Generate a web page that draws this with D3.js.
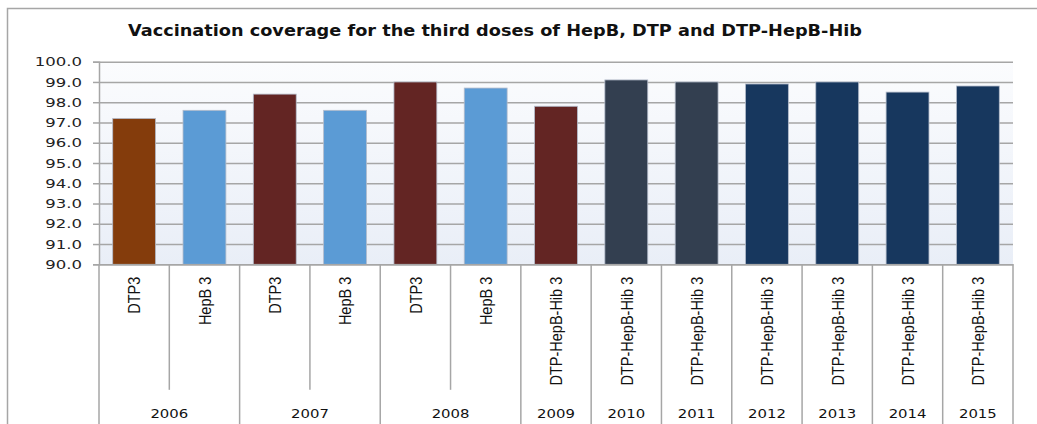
<!DOCTYPE html>
<html>
<head>
<meta charset="utf-8">
<script src="https://cdn.jsdelivr.net/npm/d3@7"></script>
<style>
  body { margin: 0; background: #fff; }
  svg { display: block; }
</style>
</head>
<body>
<div id="chart"></div>
<script>
// data
var years = ["2006", "2006", "2007", "2007", "2008", "2008", "2009", "2010", "2011", "2012", "2013", "2014", "2015"];
var vaccines = ["DTP3", "HepB 3", "DTP3", "HepB 3", "DTP3", "HepB 3",
  "DTP-HepB-Hib 3", "DTP-HepB-Hib 3", "DTP-HepB-Hib 3", "DTP-HepB-Hib 3",
  "DTP-HepB-Hib 3", "DTP-HepB-Hib 3", "DTP-HepB-Hib 3"];
var coverage = [97.2, 97.6, 98.4, 97.6, 99.0, 98.7, 97.8, 99.1, 99.0, 98.9, 99.0, 98.5, 98.8];
var yTicks = [90, 91, 92, 93, 94, 95, 96, 97, 98, 99, 100];
var title = "Vaccination coverage for the third doses of HepB, DTP and DTP-HepB-Hib";

// fill for each bar (same order as the data)
var barColors = ["#843c0c", "#5b9bd5", "#632523", "#5b9bd5", "#632523", "#5b9bd5",
  "#632523", "#333f50", "#333f50", "#17375e", "#17375e", "#17375e", "#17375e"];

var svgWidth = 1037;
var svgHeight = 424;
var margin = { top: 61.7, left: 99 };
var width = 914;
var height = 202.6;
var stretch = 1.27; // the original is drawn a bit wide

var svg = d3.select("#chart")
  .append("svg")
  .attr("width", svgWidth)
  .attr("height", svgHeight);

// chart frame
svg.append("rect")
  .attr("x", 7.5).attr("y", 8.5)
  .attr("width", 1100).attr("height", 500)
  .attr("fill", "none")
  .attr("stroke", "#a6a6a6")
  .attr("stroke-width", 1.5);

var defs = svg.append("defs");
var grad = defs.append("linearGradient")
  .attr("id", "plotbg")
  .attr("x1", 0).attr("y1", 0).attr("x2", 0).attr("y2", 1);
grad.append("stop").attr("offset", "0%").attr("stop-color", "#fbfcfe");
grad.append("stop").attr("offset", "100%").attr("stop-color", "#e9eef7");

svg.append("text")
  .attr("x", 495)
  .attr("y", 36)
  .attr("text-anchor", "middle")
  .attr("textLength", 734)
  .attr("lengthAdjust", "spacingAndGlyphs")
  .style("font-family", "'DejaVu Sans', Verdana, sans-serif")
  .style("font-weight", "bold")
  .style("font-size", "15px")
  .attr("fill", "#111")
  .text(title);

var chartGroup = svg.append("g")
  .attr("transform", `translate(${margin.left}, ${margin.top})`);

chartGroup.append("rect")
  .attr("width", width)
  .attr("height", height)
  .attr("fill", "url(#plotbg)");

// scales
var xScale = d3.scaleBand()
  .domain(d3.range(coverage.length))
  .range([0, width])
  .paddingInner(0.39)
  .paddingOuter(0.195);

var yScale = d3.scaleLinear()
  .domain([90, 100])
  .range([height, 0]);

// gridlines
chartGroup.append("g")
  .attr("class", "grid")
  .call(d3.axisLeft(yScale).tickValues(yTicks).tickSize(-width).tickFormat(""))
  .call(g => g.select(".domain").remove())
  .call(g => g.selectAll("line").attr("stroke", "#a6a6a6").attr("stroke-width", 1.5));

// bars
chartGroup.selectAll(".bar")
  .data(coverage)
  .enter()
  .append("rect")
  .attr("class", "bar")
  .attr("x", (d, i) => xScale(i))
  .attr("y", d => yScale(d))
  .attr("width", xScale.bandwidth())
  .attr("height", d => height - yScale(d))
  .attr("fill", (d, i) => barColors[i])
  .attr("stroke", "#b4bccb")
  .attr("stroke-width", 0.8);

// y axis
var leftAxis = d3.axisLeft(yScale)
  .tickValues(yTicks)
  .tickSize(6)
  .tickFormat(d3.format(".1f"));

chartGroup.append("g")
  .call(leftAxis)
  .call(g => g.select(".domain").attr("stroke", "#a6a6a6").attr("stroke-width", 1.5))
  .call(g => g.selectAll(".tick line").attr("stroke", "#a6a6a6").attr("stroke-width", 1.5))
  .call(g => g.selectAll(".tick text")
    .attr("x", -17 / stretch)
    .attr("transform", `scale(${stretch},1)`)
    .attr("fill", "#222")
    .style("font-family", "'DejaVu Sans', Verdana, sans-serif")
    .style("font-size", "13px"));

// x axis: inner labels (vaccine)
var bottomAxis = d3.axisBottom(xScale)
  .tickSize(0)
  .tickFormat(i => vaccines[i]);

var xAxisGroup = chartGroup.append("g")
  .attr("transform", `translate(0, ${height})`)
  .call(bottomAxis)
  .call(g => g.select(".domain").attr("stroke", "#a6a6a6").attr("stroke-width", 1.5));

xAxisGroup.selectAll(".tick text")
  .attr("transform", "rotate(-90) scale(1,1.2)")
  .attr("x", -12.5)
  .attr("y", 0)
  .attr("dy", "0.36em")
  .attr("text-anchor", "end")
  .attr("fill", "#111")
  .style("font-family", "'Liberation Sans', Arial, sans-serif")
  .style("font-size", "14.5px");

// separators between categories
var step = xScale.step();
var x0 = xScale.range()[0];
var bounds = d3.range(coverage.length + 1);
xAxisGroup.selectAll(".sep")
  .data(bounds)
  .enter()
  .append("line")
  .attr("class", "sep")
  .attr("x1", i => x0 + i * step)
  .attr("x2", i => x0 + i * step)
  .attr("y1", 0)
  .attr("y2", i => (i === 0 || i === coverage.length || years[i] !== years[i - 1]) ? 170 : 125.5)
  .attr("stroke", "#a6a6a6")
  .attr("stroke-width", 1.5);

// outer labels (year)
var yearGroups = d3.groups(d3.range(coverage.length), i => years[i]);
xAxisGroup.selectAll(".year")
  .data(yearGroups)
  .enter()
  .append("g")
  .attr("class", "year")
  .attr("transform", d => {
    var first = d[1][0], last = d[1][d[1].length - 1];
    var cx = (xScale(first) + xScale(last) + xScale.bandwidth()) / 2;
    return `translate(${cx}, 153.5)`;
  })
  .append("text")
  .attr("transform", `scale(${stretch - 0.03},1)`)
  .attr("text-anchor", "middle")
  .attr("fill", "#111")
  .style("font-family", "'DejaVu Sans', Verdana, sans-serif")
  .style("font-size", "12px")
  .text(d => d[0]);
</script>
</body>
</html>
